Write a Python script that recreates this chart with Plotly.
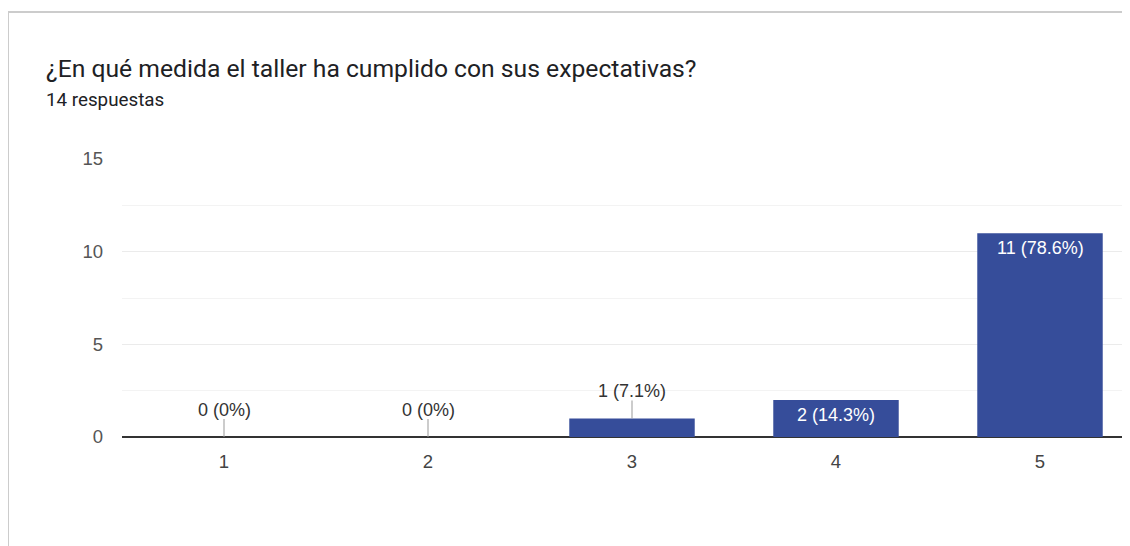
import plotly.graph_objects as go

# ---- data ----
categories = ["1", "2", "3", "4", "5"]
counts = [0, 0, 1, 2, 11]
total = 14
title_text = "¿En qué medida el taller ha cumplido con sus expectativas?"
subtitle_text = "14 respuestas"

# ---- layout constants (pixels); the page body adds an 8px offset ----
OFF = 8
W, H = 1130, 546
L = 122 - OFF
T = 159 - OFF
R = 0
B = H - (437 - OFF)
PW, PH = W - L - R, H - T - B
BAND = 204.0  # px per category
YMAX = 15

def px_x(x):
    return (x - OFF - L) / PW

def px_y(y):
    return (H - B - (y - OFF)) / PH

labels = []
for c in counts:
    pct = c / total * 100
    s = f"{pct:.1f}".rstrip("0").rstrip(".") if pct != 0 else "0"
    labels.append(f"{c} ({s}%)")

bar_color = "#364d9a"
label_font = "Liberation Sans, Arial"

fig = go.Figure()
fig.add_trace(go.Bar(
    x=categories, y=counts, marker=dict(color=bar_color, line=dict(width=0)),
    width=0.615, hoverinfo="skip",
))

annotations = []
shapes = []
px_per_unit = PH / YMAX
for i, (c, lab) in enumerate(zip(counts, labels)):
    if c * px_per_unit > 30:
        annotations.append(dict(
            x=i, y=c, xref="x", yref="y", text=lab, showarrow=False,
            yanchor="top", yshift=-3,
            font=dict(family=label_font, size=18, color="#ffffff"),
        ))
    else:
        shapes.append(dict(
            type="line", xref="x", yref="y", x0=i, x1=i,
            ysizemode="pixel", yanchor=c, y0=0, y1=18,
            line=dict(color="#999999", width=1),
        ))
        annotations.append(dict(
            x=i, y=c, xref="x", yref="y", text=lab, showarrow=False,
            yanchor="bottom", yshift=15,
            font=dict(family=label_font, size=18, color="#333333"),
        ))

# border card
for (x0, y0, x1, y1) in [(8, 12, W + 20, 12), (8, 12, 8, H + 20)]:
    shapes.append(dict(
        type="line", xref="paper", yref="paper",
        x0=px_x(x0), x1=px_x(x1), y0=px_y(y0), y1=px_y(y1),
        line=dict(color="#cccccc", width=2), layer="above",
    ))

annotations.append(dict(
    xref="paper", yref="paper", x=px_x(44), y=px_y(68), xanchor="left", yanchor="middle",
    text=title_text, showarrow=False,
    font=dict(family="Roboto", size=24.7, color="#202124"),
))
annotations.append(dict(
    xref="paper", yref="paper", x=px_x(44), y=px_y(100), xanchor="left", yanchor="middle",
    text=subtitle_text, showarrow=False,
    font=dict(family="Roboto", size=18.8, color="#202124"),
))

fig.update_layout(
    width=W, height=H,
    margin=dict(l=L, r=R, t=T, b=B, pad=0),
    paper_bgcolor="white", plot_bgcolor="white",
    showlegend=False,
    annotations=annotations, shapes=shapes,
    xaxis=dict(
        type="category", range=[-0.5, -0.5 + PW / BAND],
        showgrid=False, zeroline=False, showline=False,
        ticks="", ticklabelstandoff=11,
        tickfont=dict(family=label_font, size=18.5, color="#444444"),
    ),
    yaxis=dict(
        range=[0, YMAX], tickvals=[0, 5, 10, 15], showgrid=True,
        gridcolor="#ebebeb", gridwidth=1,
        minor=dict(tickvals=[2.5, 7.5, 12.5], showgrid=True, gridcolor="#f3f3f3", gridwidth=1),
        zeroline=True, zerolinecolor="#333333", zerolinewidth=1.5,
        showline=False, ticks="", ticklabelstandoff=18,
        tickfont=dict(family=label_font, size=18.5, color="#555555"),
    ),
)

fig.write_html("out.html")
